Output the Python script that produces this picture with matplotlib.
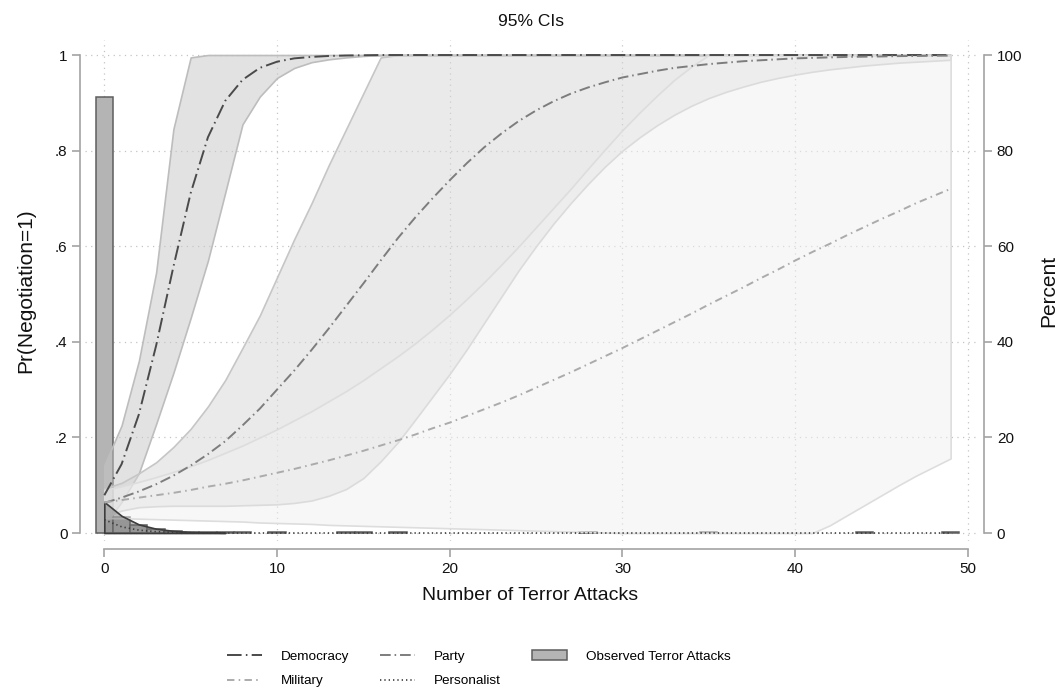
import matplotlib
matplotlib.use('Agg')
import matplotlib.pyplot as plt
from matplotlib.lines import Line2D
from matplotlib.patches import Patch

plt.rcParams['font.family'] = ['Liberation Sans', 'DejaVu Sans']

# ---- data ----
attacks = list(range(50))

democracy = [0.079, 0.144, 0.248, 0.392, 0.557, 0.711, 0.828, 0.904, 0.948, 0.973,
             0.986, 0.993, 0.996, 0.998, 0.999, 0.9995] + [1.0] * 34
democracy_hi = [0.142, 0.225, 0.36, 0.545, 0.845, 0.995] + [1.0] * 44
democracy_lo = [0.017, 0.065, 0.125, 0.228, 0.335, 0.45, 0.57, 0.712, 0.855, 0.913,
                0.952, 0.973, 0.985, 0.991, 0.995, 0.998] + [1.0] * 34

party = [0.063, 0.074, 0.087, 0.102, 0.120, 0.141, 0.165, 0.192, 0.225, 0.260,
         0.300, 0.340, 0.383, 0.428, 0.475, 0.522, 0.570, 0.617, 0.660, 0.700,
         0.738, 0.774, 0.807, 0.836, 0.862, 0.884, 0.903, 0.919, 0.932, 0.943,
         0.953, 0.960, 0.967, 0.973, 0.977, 0.981, 0.984, 0.987, 0.989, 0.991,
         0.993, 0.994, 0.995, 0.996, 0.9965, 0.997, 0.9977, 0.998, 0.9985, 0.9988]
party_hi = [0.093, 0.105, 0.125, 0.148, 0.18, 0.218, 0.265, 0.32, 0.387, 0.455,
            0.535, 0.615, 0.69, 0.77, 0.845, 0.92, 0.995] + [1.0] * 33
party_lo = [0.033, 0.047, 0.054, 0.056, 0.057, 0.057, 0.057, 0.057, 0.058, 0.059,
            0.060, 0.063, 0.068, 0.078, 0.092, 0.115, 0.150, 0.190, 0.237, 0.285,
            0.333, 0.385, 0.44, 0.495, 0.55, 0.60, 0.647, 0.69, 0.73, 0.767,
            0.80, 0.828, 0.853, 0.875, 0.894, 0.91, 0.923, 0.934, 0.944, 0.952,
            0.959, 0.965, 0.97, 0.974, 0.978, 0.981, 0.984, 0.986, 0.988, 0.99]

military = [0.064, 0.069, 0.074, 0.079, 0.084, 0.090, 0.097, 0.103, 0.110, 0.118,
            0.126, 0.134, 0.143, 0.152, 0.162, 0.172, 0.183, 0.194, 0.206, 0.219,
            0.231, 0.245, 0.259, 0.273, 0.288, 0.304, 0.320, 0.336, 0.353, 0.370,
            0.387, 0.405, 0.423, 0.441, 0.459, 0.478, 0.496, 0.514, 0.533, 0.551,
            0.570, 0.588, 0.605, 0.623, 0.640, 0.657, 0.673, 0.690, 0.705, 0.720]
military_hi = [0.09, 0.098, 0.107, 0.117, 0.128, 0.14, 0.153, 0.168, 0.183, 0.2,
               0.217, 0.236, 0.255, 0.276, 0.297, 0.32, 0.345, 0.37, 0.397, 0.426,
               0.457, 0.49, 0.525, 0.562, 0.60, 0.64, 0.68, 0.72, 0.762, 0.803,
               0.843, 0.88, 0.915, 0.948, 0.976] + [1.0] * 15
military_lo = [0.031, 0.031, 0.03, 0.029, 0.028, 0.027, 0.026, 0.025, 0.024, 0.022,
               0.021, 0.02, 0.019, 0.017, 0.016, 0.015, 0.014, 0.013, 0.012, 0.011,
               0.01, 0.009, 0.008, 0.007, 0.006, 0.005, 0.004, 0.003, 0.002, 0.001] \
              + [0.0] * 12 + [0.016, 0.037, 0.058, 0.079, 0.1, 0.12, 0.138, 0.156]

personalist = [0.028, 0.013, 0.006, 0.0028, 0.0013, 0.0006, 0.0003, 0.0001] + [0.0] * 42
personalist_hi = [0.065, 0.036, 0.018, 0.009, 0.0045, 0.002, 0.001, 0.0005] + [0.0] * 42
personalist_lo = [0.0] * 50

# histogram of observed terror attacks (percent per bin)
hist_bins = [0, 1, 2, 3, 4, 5, 6, 7, 8, 10, 14, 15, 17, 28, 35, 44, 49]
hist_pct = [91.3, 3.4, 1.7, 0.9, 0.4, 0.3, 0.25, 0.2, 0.2, 0.15, 0.15, 0.15, 0.15,
            0.15, 0.15, 0.15, 0.15]

y_ticks = [0, 0.2, 0.4, 0.6, 0.8, 1]
y_ticklabels = ['0', '.2', '.4', '.6', '.8', '1']
pct_ticks = [0, 20, 40, 60, 80, 100]
x_ticks = [0, 10, 20, 30, 40, 50]

# ---- figure ----
axis_grey = '#a3a3a3'
text_col = '#111111'

fig = plt.figure(figsize=(10.62, 6.93), dpi=100)
ax = fig.add_axes([85 / 1062, 152 / 693, 891 / 1062, 501 / 693])
ax2 = ax.twinx()

# histogram axis goes underneath, prediction axis on top
ax.set_zorder(2)
ax2.set_zorder(1)
ax.patch.set_visible(False)

ax.set_xlim(-1.118, 50.47)
ax.set_ylim(-0.0167, 1.0314)
ax2.set_ylim(-1.67, 103.14)

# grid drawn on the bottom axis so the bars cover it
ax2.xaxis.set_visible(True)
ax2.set_xticks(x_ticks)
ax2.set_yticks(pct_ticks)
ax2.tick_params(axis='x', bottom=False, top=False, labelbottom=False, labeltop=False)
ax2.grid(True, axis='both', color='#c4c4c4', linestyle=(0, (1, 3.5)), linewidth=0.9)

ax2.bar(hist_bins, hist_pct, width=1, color='#b4b4b4', edgecolor='#5e5e5e',
        linewidth=1.1, zorder=2)

# confidence bands
ax.fill_between(attacks, democracy_lo, democracy_hi, facecolor=(0.78, 0.78, 0.78, 0.5),
                edgecolor='#bdbdbd', linewidth=1.2, zorder=2)
ax.fill_between(attacks, party_lo, party_hi, facecolor=(0.84, 0.84, 0.84, 0.5),
                edgecolor='#c6c6c6', linewidth=1.2, zorder=2)
ax.fill_between(attacks, military_lo, military_hi, facecolor=(0.94, 0.94, 0.94, 0.5),
                edgecolor='#dddddd', linewidth=1.2, zorder=2)
ax.fill_between(attacks, personalist_lo, personalist_hi,
                where=[h > l for h, l in zip(personalist_hi, personalist_lo)],
                facecolor=(0.45, 0.45, 0.45, 0.45), edgecolor='#3c3c3c',
                linewidth=1.2, zorder=2)

# predicted probabilities
styles = {
    'Democracy': dict(color='#4a4a4a', linestyle=(0, (7.5, 2.2, 0.8, 2.2)), linewidth=1.4),
    'Party': dict(color='#7d7d7d', linestyle=(0, (5.5, 2.0, 0.8, 2.0)), linewidth=1.4),
    'Military': dict(color='#ababab', linestyle=(0, (3.8, 2.2, 0.8, 2.2)), linewidth=1.4),
    'Personalist': dict(color='#3a3a3a', linestyle=(0, (0.8, 1.8)), linewidth=1.2),
}
ax.plot(attacks, democracy, zorder=3, **styles['Democracy'])
ax.plot(attacks, party, zorder=3, **styles['Party'])
ax.plot(attacks, military, zorder=3, **styles['Military'])
ax.plot(attacks, personalist, zorder=3, **styles['Personalist'])

# ---- axes styling (Stata look) ----
ax.set_xticks(x_ticks)
ax.set_yticks(y_ticks)
ax.set_yticklabels(y_ticklabels)
ax2.set_yticklabels([str(t) for t in pct_ticks])

for s in ['top', 'right']:
    ax.spines[s].set_visible(False)
for s in ['top', 'left', 'bottom']:
    ax2.spines[s].set_visible(False)

ax.spines['left'].set_position(('outward', 3.6))
ax.spines['bottom'].set_position(('outward', 6))
ax2.spines['right'].set_position(('outward', 6))
ax.spines['left'].set_bounds(0, 1)
ax.spines['bottom'].set_bounds(0, 50)
ax2.spines['right'].set_bounds(0, 100)
for sp in [ax.spines['left'], ax.spines['bottom'], ax2.spines['right']]:
    sp.set_color(axis_grey)
    sp.set_linewidth(1.2)

ax.tick_params(axis='both', direction='out', length=6, width=1.2, color=axis_grey,
               labelsize=11, labelcolor=text_col, pad=3)
ax2.tick_params(axis='y', direction='out', length=6, width=1.2, color=axis_grey,
                labelsize=11, labelcolor=text_col, pad=3)

ax.set_xlabel('Number of Terror Attacks', fontsize=14, color=text_col, labelpad=8)
ax.set_ylabel('Pr(Negotiation=1)', fontsize=15, color=text_col, labelpad=14)
ax2.set_ylabel('Percent', fontsize=15, color=text_col, labelpad=12)
ax.set_title('95% CIs', fontsize=12.5, color=text_col, pad=10)

# legend
handles = [
    Line2D([], [], **styles['Democracy']),
    Line2D([], [], **styles['Military']),
    Line2D([], [], **styles['Party']),
    Line2D([], [], **styles['Personalist']),
    Patch(facecolor='#b4b4b4', edgecolor='#5e5e5e', linewidth=1.1),
]
labels = ['Democracy', 'Military', 'Party', 'Personalist', 'Observed Terror Attacks']
fig.legend(handles, labels, loc='center', bbox_to_anchor=(0.451, 0.035), ncol=3,
           frameon=False, fontsize=9.7, handlelength=2.6, handletextpad=1.4,
           columnspacing=2.3, labelspacing=0.9)

fig.savefig('out.png', dpi=100)
